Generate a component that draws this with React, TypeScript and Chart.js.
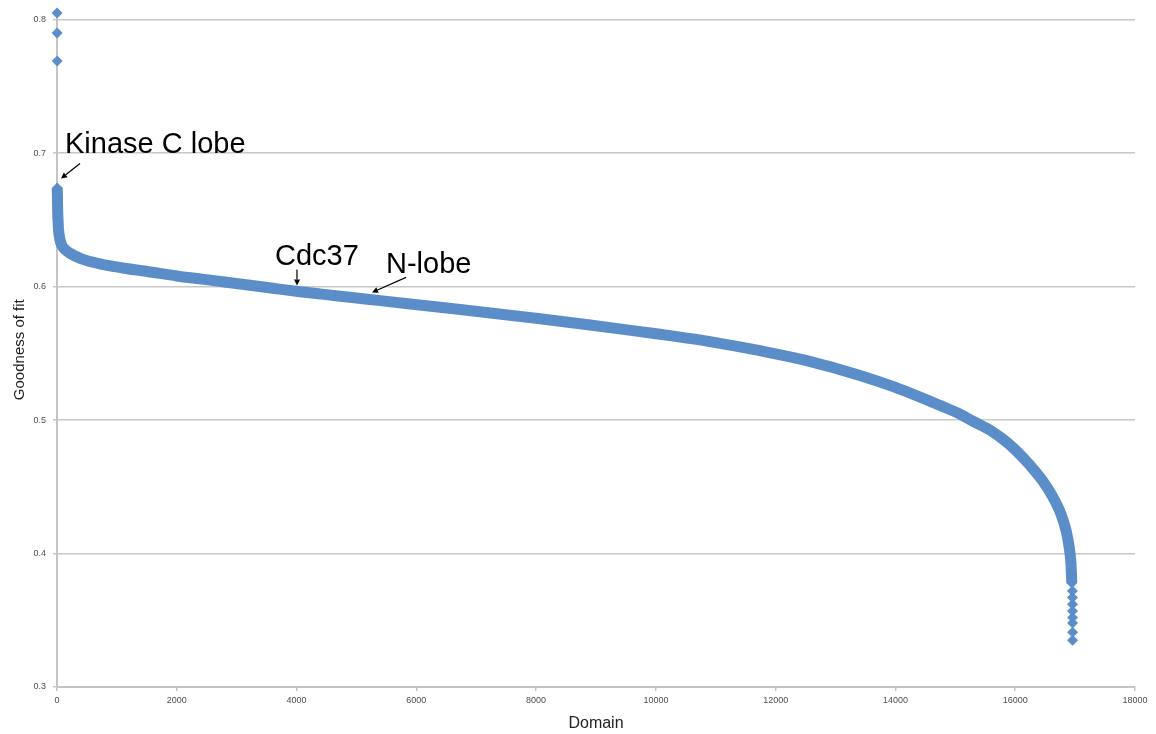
import React, { useEffect, useRef } from "react";
import { Chart, registerables } from "chart.js";

Chart.register(...registerables);

// Main sorted band (domain index, goodness of fit)
const mainX = [4, 6, 8, 10, 12, 15, 20, 25, 35, 50, 80, 130, 217, 400, 718, 1100, 1553, 2000, 2388, 2800, 3223, 3600, 4057, 4500, 4892, 5400, 5900, 6395, 7200, 8065, 8900, 9735, 10069, 10900, 11738, 12500, 13408, 14000, 14744, 15078, 15300, 15578, 15800, 15996, 16250, 16450, 16620, 16760, 16850, 16900, 16930, 16945];
const mainY = [0.674, 0.669, 0.665, 0.660, 0.656, 0.652, 0.647, 0.643, 0.639, 0.635, 0.631, 0.628, 0.625, 0.621, 0.617, 0.614, 0.611, 0.608, 0.6058, 0.6035, 0.601, 0.5988, 0.5962, 0.594, 0.592, 0.5895, 0.587, 0.5845, 0.5805, 0.576, 0.5713, 0.5663, 0.5643, 0.5588, 0.552, 0.5448, 0.5335, 0.5245, 0.511, 0.5045, 0.499, 0.4925, 0.4855, 0.478, 0.466, 0.455, 0.443, 0.430, 0.417, 0.405, 0.393, 0.378];

// Isolated points (top outliers and bottom tail)
const sparseX = [1, 2, 3, 16955, 16955, 16956, 16956, 16957, 16957, 16958, 16958];
const sparseY = [0.805, 0.790, 0.769, 0.372, 0.367, 0.362, 0.357, 0.352, 0.348, 0.341, 0.335];

const xTicks = [0, 2000, 4000, 6000, 8000, 10000, 12000, 14000, 16000, 18000];
const yTicks = [0.3, 0.4, 0.5, 0.6, 0.7, 0.8];

// Annotations: arrow tip in data coords
const annotText = ["Kinase C lobe", "Cdc37", "N-lobe"];
const annotTipX = [67, 4007, 5260];
const annotTipY = [0.681, 0.6009, 0.5957];

const BLUE = "#5b8ec9";

const annotPlugin = {
  id: "annot",
  afterDatasetsDraw(chart: any) {
    const { ctx, scales } = chart;
    const xs = scales.x;
    const ys = scales.y;
    // offsets in px relative to arrow tip: [tailDx, tailDy, textDx, textDy]
    const offs = [
      [19, -15, 4, -26],
      [0, -16, -22, -20],
      [34, -15, 14, -19],
    ];
    ctx.save();
    for (let i = 0; i < annotText.length; i++) {
      const tx = xs.getPixelForValue(annotTipX[i]);
      const ty = ys.getPixelForValue(annotTipY[i]);
      const [dx, dy, lx, ly] = offs[i];
      const sx = tx + dx;
      const sy = ty + dy;
      const ang = Math.atan2(ty - sy, tx - sx);
      const hl = 6;
      const hw = 3;
      const bx = tx - hl * Math.cos(ang);
      const by = ty - hl * Math.sin(ang);
      ctx.strokeStyle = "#000";
      ctx.fillStyle = "#000";
      ctx.lineWidth = 1.2;
      ctx.beginPath();
      ctx.moveTo(sx, sy);
      ctx.lineTo(bx, by);
      ctx.stroke();
      ctx.beginPath();
      ctx.moveTo(tx, ty);
      ctx.lineTo(bx + hw * Math.sin(ang), by - hw * Math.cos(ang));
      ctx.lineTo(bx - hw * Math.sin(ang), by + hw * Math.cos(ang));
      ctx.closePath();
      ctx.fill();
      ctx.font = '29px "Liberation Sans", Arial, sans-serif';
      ctx.textAlign = "left";
      ctx.textBaseline = "alphabetic";
      ctx.fillText(annotText[i], tx + lx, ty + ly);
    }
    ctx.restore();
  },
};

export default function App() {
  const ref = useRef<HTMLCanvasElement>(null);
  useEffect(() => {
    if (!ref.current) return;
    Chart.defaults.font.family = '"Liberation Sans", Arial, sans-serif';
    const chart = new Chart(ref.current, {
      type: "scatter",
      data: {
        datasets: [
          {
            data: mainX.map((x, i) => ({ x, y: mainY[i] })),
            showLine: true,
            cubicInterpolationMode: "monotone",
            borderColor: BLUE,
            borderWidth: 11,
            backgroundColor: BLUE,
            pointStyle: "rectRot",
            pointRadius: 5.5,
            pointBorderWidth: 0,
            clip: false,
          } as any,
          {
            data: sparseX.map((x, i) => ({ x, y: sparseY[i] })),
            showLine: false,
            borderColor: BLUE,
            backgroundColor: BLUE,
            pointStyle: "rectRot",
            pointRadius: 5.5,
            pointBorderWidth: 0,
            clip: false,
          } as any,
        ],
      },
      options: {
        responsive: false,
        animation: false,
        layout: { padding: { top: 0, right: 21, left: 0, bottom: 0 } },
        plugins: { legend: { display: false }, tooltip: { enabled: false } },
        scales: {
          x: {
            type: "linear",
            min: 0,
            max: 18000,
            afterBuildTicks: (s: any) => {
              s.ticks = xTicks.map((v) => ({ value: v }));
            },
            afterFit: (s: any) => {
              s.height = 47;
            },
            ticks: {
              font: { size: 9 },
              color: "#4d4d4d",
              padding: 4,
              maxRotation: 0,
              autoSkip: false,
              callback: (v: any) => String(v),
            },
            grid: { drawOnChartArea: false, drawTicks: true, tickLength: 4, color: "#c4c4c4", lineWidth: 1.5 },
            border: { color: "#c4c4c4", width: 2 },
            title: {
              display: true,
              text: "Domain",
              font: { size: 16 },
              color: "#222",
              padding: { top: 0, bottom: 1 },
            },
          },
          y: {
            type: "linear",
            min: 0.3,
            max: 0.8055,
            afterBuildTicks: (s: any) => {
              s.ticks = yTicks.map((v) => ({ value: v }));
            },
            afterFit: (s: any) => {
              s.width = 57;
            },
            ticks: {
              font: { size: 9 },
              color: "#4d4d4d",
              padding: 7,
              autoSkip: false,
              callback: (v: any) => Number(v).toFixed(1),
            },
            grid: { drawOnChartArea: true, drawTicks: true, tickLength: 4, color: "#c8c8c8", lineWidth: 1.5 },
            border: { color: "#c4c4c4", width: 2 },
            title: {
              display: true,
              text: "Goodness of fit",
              font: { size: 15 },
              color: "#222",
              padding: { top: 11, bottom: 0 },
            },
          },
        },
      },
      plugins: [annotPlugin],
    });
    return () => chart.destroy();
  }, []);
  return (
    <canvas
      ref={ref}
      width={1156}
      height={734}
      style={{ position: "fixed", left: 0, top: 0, display: "block", width: 1156, height: 734 }}
    />
  );
}
